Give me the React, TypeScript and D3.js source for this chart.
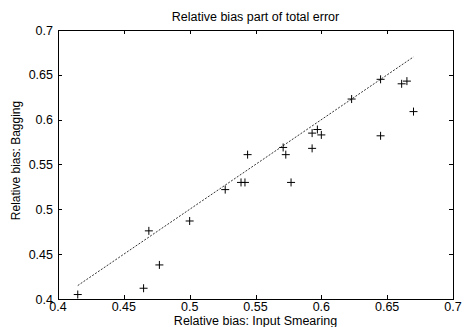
import React, { useEffect, useRef } from 'react';
import * as d3 from 'd3';

// values
const smearing = [
  0.415, 0.465, 0.477, 0.469, 0.5, 0.527, 0.539, 0.542, 0.544, 0.571, 0.573,
  0.577, 0.593, 0.593, 0.597, 0.6, 0.645, 0.67, 0.623, 0.645, 0.661, 0.665,
];
const bagging = [
  0.405, 0.412, 0.438, 0.476, 0.487, 0.522, 0.53, 0.53, 0.561, 0.569, 0.561,
  0.53, 0.568, 0.585, 0.589, 0.583, 0.582, 0.609, 0.623, 0.645, 0.64, 0.643,
];
const diagonal = [0.415, 0.67];
const xTicks = [0.4, 0.45, 0.5, 0.55, 0.6, 0.65, 0.7];
const yTicks = [0.4, 0.45, 0.5, 0.55, 0.6, 0.65, 0.7];

const App = () => {
  const svgRef = useRef<SVGSVGElement>(null);

  useEffect(() => {
    const width = 464;
    const height = 327;
    const left = 58, right = 453, top = 30, bottom = 299;
    const font = 'Liberation Sans, Arial, Helvetica, sans-serif';

    const svg = d3.select(svgRef.current)
      .attr('width', width)
      .attr('height', height);
    svg.selectAll('*').remove();

    svg.append('rect').attr('width', width).attr('height', height).attr('fill', '#fff');

    const x = d3.scaleLinear().domain([0.4, 0.7]).range([left, right]);
    const y = d3.scaleLinear().domain([0.4, 0.7]).range([bottom, top]);

    const tickLen = 4;
    const g = svg.append('g').attr('stroke', '#000').attr('stroke-width', 1);

    // ticks on all four sides, pointing inward
    xTicks.forEach(t => {
      const px = Math.round(x(t)) + 0.5;
      g.append('line').attr('x1', px).attr('x2', px).attr('y1', bottom).attr('y2', bottom - tickLen);
      g.append('line').attr('x1', px).attr('x2', px).attr('y1', top).attr('y2', top + tickLen);
    });
    yTicks.forEach(t => {
      const py = Math.round(y(t)) + 0.5;
      g.append('line').attr('x1', left).attr('x2', left + tickLen).attr('y1', py).attr('y2', py);
      g.append('line').attr('x1', right).attr('x2', right - tickLen).attr('y1', py).attr('y2', py);
    });

    g.append('rect')
      .attr('x', left + 0.5).attr('y', top + 0.5)
      .attr('width', right - left).attr('height', bottom - top)
      .attr('fill', 'none');

    // tick labels
    const txt = svg.append('g').attr('font-family', font).attr('font-size', 12.5).attr('fill', '#000');
    xTicks.forEach(t => {
      txt.append('text')
        .attr('x', x(t)).attr('y', bottom + 12)
        .attr('text-anchor', 'middle')
        .text(d3.format('')(t));
    });
    yTicks.forEach(t => {
      txt.append('text')
        .attr('x', left - 5).attr('y', y(t) + 4.5)
        .attr('text-anchor', 'end')
        .text(d3.format('')(t));
    });

    // diagonal reference line
    const line = d3.line<number>().x(d => x(d)).y(d => y(d));
    svg.append('path')
      .datum(diagonal)
      .attr('d', line)
      .attr('fill', 'none')
      .attr('stroke', '#000')
      .attr('stroke-width', 0.8)
      .attr('stroke-dasharray', '2,1.5');

    // markers
    const pts = svg.append('g').attr('stroke', '#000').attr('stroke-width', 1);
    smearing.forEach((sx, i) => {
      const cx = x(sx), cy = y(bagging[i]);
      pts.append('path')
        .attr('d', `M${cx - 4},${cy}H${cx + 4}M${cx},${cy - 4}V${cy + 4}`);
    });

    // titles
    svg.append('text')
      .attr('x', (left + right) / 2).attr('y', 21)
      .attr('text-anchor', 'middle')
      .attr('font-family', font).attr('font-size', 12.5)
      .text('Relative bias part of total error');

    svg.append('text')
      .attr('x', (left + right) / 2).attr('y', 325)
      .attr('text-anchor', 'middle')
      .attr('font-family', font).attr('font-size', 12.5)
      .text('Relative bias: Input Smearing');

    svg.append('text')
      .attr('transform', `translate(20,${(top + bottom) / 2 - 4}) rotate(-90)`)
      .attr('text-anchor', 'middle')
      .attr('font-family', font).attr('font-size', 12)
      .text('Relative bias: Bagging');
  }, []);

  return (
    <svg ref={svgRef} style={{ position: 'absolute', left: 0, top: 0, display: 'block' }}></svg>
  );
};

export default App;
